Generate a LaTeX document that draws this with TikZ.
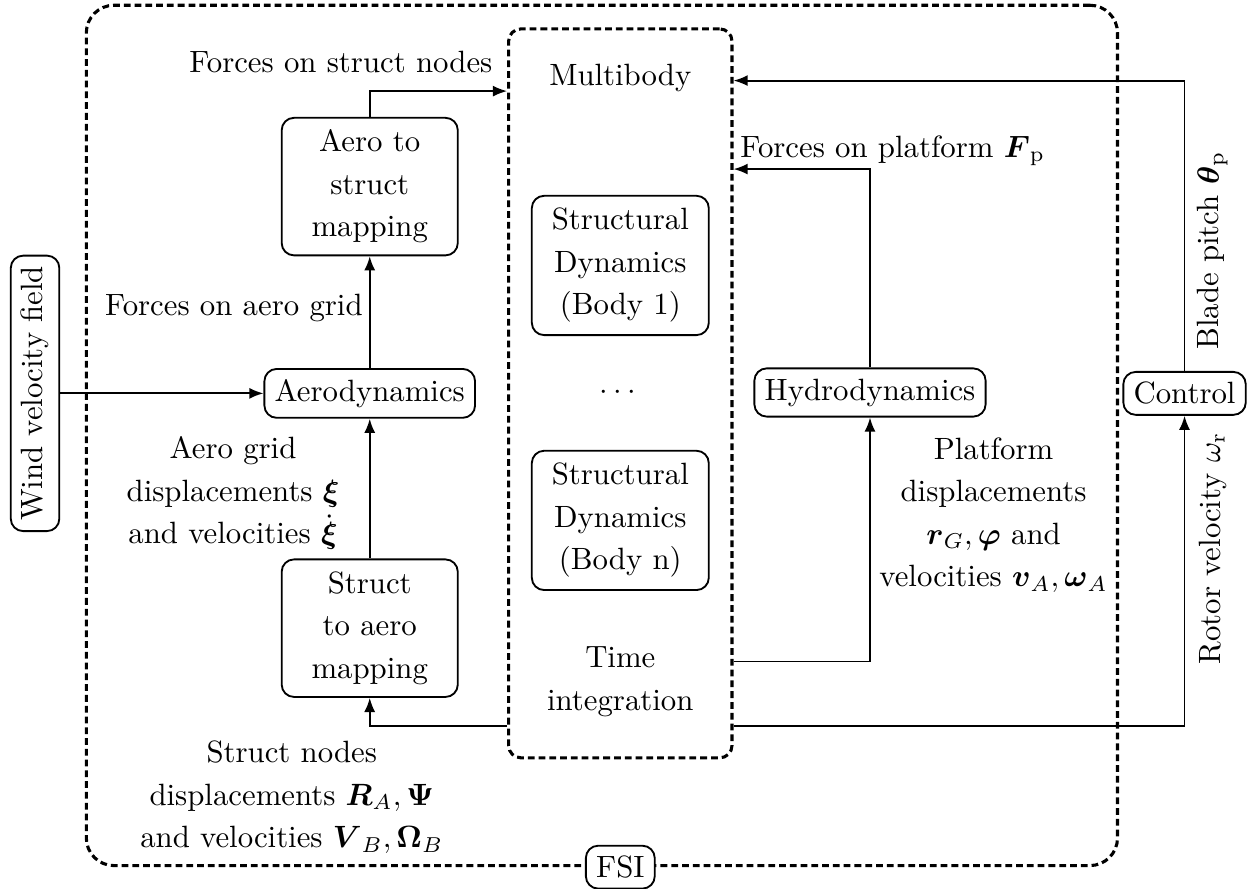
\documentclass[tikz,border=0pt]{standalone}
\usepackage{amsmath}
\usetikzlibrary{arrows.meta}
\begin{document}
\begin{tikzpicture}[
    font=\fontsize{10pt}{13.8pt}\selectfont,
    block/.style={rectangle, draw, line width=0.6pt, rounded corners=4pt, align=center},
    mapbox/.style={block, minimum width=2.01cm, minimum height=1.57cm},
    bodybox/.style={block, minimum width=2.02cm, minimum height=1.59cm},
    group/.style={rectangle, draw, line width=1pt, dash pattern=on 2.2pt off 1.3pt},
    lbl/.style={align=center},
    flow/.style={-{Latex[length=4.6pt,width=3.6pt]}, line width=0.6pt}
]
\useasboundingbox (0,0) rectangle (14.29,10.14);

% Groups
\node[group, rounded corners=9pt, minimum width=11.77cm, minimum height=9.82cm] (fsibox) at (6.87,5.17) {};
\node[group, rounded corners=4pt, minimum width=2.55cm, minimum height=8.32cm] (mb) at (7.08,5.65) {};
\node[block, fill=white, minimum height=0.48cm] (fsi) at (mb |- fsibox.south) {FSI};

% Multibody
\node[lbl] (multibody) at (7.08,9.25) {Multibody};
\node[bodybox] (body1) at (7.08,7.11) {Structural\\Dynamics\\(Body 1)};
\node[lbl] (dots) at (7.08,5.66) {$\cdots$};
\node[bodybox] (bodyn) at (7.08,4.20) {Structural\\Dynamics\\(Body n)};
\node[lbl] (timeint) at (7.08,2.36) {Time\\integration};

% Aero side
\node[block, rotate=90] (wind) at (0.40,5.65) {Wind velocity field};
\node[mapbox] (a2s) at (4.22,8.01) {Aero to\\struct\\mapping};
\node[block] (aero) at (4.22,5.65) {Aerodynamics};
\node[mapbox] (s2a) at (4.22,2.97) {Struct\\to aero\\mapping};

% Hydro and control
\node[block] (hydro) at (9.93,5.66) {Hydrodynamics};
\node[block] (control) at (13.52,5.65) {Control};

% Levels of the connectors
\coordinate (yctl) at (0,9.22);
\coordinate (ya2s) at (0,9.10);
\coordinate (yhyd) at (0,8.21);
\coordinate (ytime) at (0,2.59);
\coordinate (yout) at (0,1.85);

% Data flows
\draw[flow] (wind.south) -- (aero.west);
\draw[flow] (aero.north) -- (a2s.south);
\draw[flow] (s2a.north) -- (aero.south);
\draw[flow] (a2s.north) |- (mb.west |- ya2s);
\draw[flow] (mb.west |- yout) -| (s2a.south);
\draw[flow] (mb.east |- ytime) -| (hydro.south);
\draw[flow] (hydro.north) |- (mb.east |- yhyd);
\draw[flow] (mb.east |- yout) -| (control.south);
\draw[flow] (control.north) |- (mb.east |- yctl);

% Labels
\node[lbl] (lforcestruct) at (3.89,9.43) {Forces on struct nodes};
\node[lbl] (lforceaero) at (2.67,6.63) {Forces on aero grid};
\node[lbl] (laerodisp) at (2.66,4.51) {Aero grid\\displacements $\boldsymbol{\xi}$\\and velocities $\dot{\boldsymbol{\xi}}$};
\node[lbl] (lstructdisp) at (3.33,1.04) {Struct nodes\\displacements $\boldsymbol{R}_A, \boldsymbol{\Psi}$\\and velocities $\boldsymbol{V}_B, \boldsymbol{\Omega}_B$};
\node[lbl] (lforceplat) at (10.19,8.42) {Forces on platform $\boldsymbol{F}_\mathrm{p}$};
\node[lbl] (lplatdisp) at (11.34,4.26) {Platform\\displacements\\$\boldsymbol{r}_G, \boldsymbol{\varphi}$ and\\velocities $\boldsymbol{v}_A, \boldsymbol{\omega}_A$};
\node[lbl, rotate=90] (lpitch) at (13.84,7.28) {Blade pitch $\boldsymbol{\theta}_\mathrm{p}$};
\node[lbl, rotate=90] (lrotor) at (13.84,3.88) {Rotor velocity $\omega_\mathrm{r}$};

\end{tikzpicture}
\end{document}
